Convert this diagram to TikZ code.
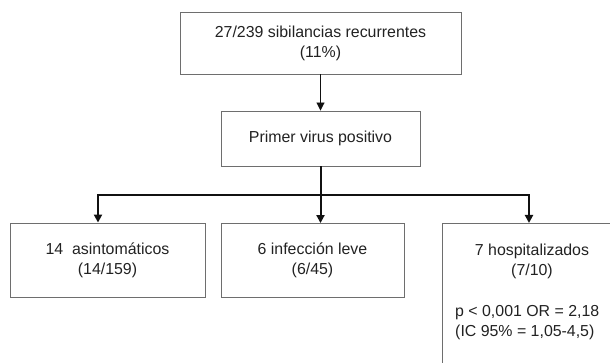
\documentclass[tikz,border=0pt]{standalone}
\usepackage{fontspec}
\setmainfont{Liberation Sans}
\usetikzlibrary{arrows.meta}
\definecolor{boxgray}{HTML}{6E6E6E}
\definecolor{txt}{HTML}{222222}
\definecolor{linek}{HTML}{111111}
\begin{document}
\begin{tikzpicture}[x=1pt,y=-1pt,
  box/.style={draw=boxgray, line width=0.9pt, align=center, text=txt, inner sep=0pt,
              font=\fontsize{15.9}{20}\selectfont},
  label/.style={text=txt, inner sep=0pt, font=\fontsize{15.9}{20}\selectfont},
  thinarrow/.style={draw=linek, line width=0.9pt, -{Triangle[width=8pt,length=8pt]}},
  busarrow/.style={draw=linek, line width=2pt, -{Triangle[width=8pt,length=8pt]}}]
\useasboundingbox (0,0) rectangle (610,363);
\clip (0,0) rectangle (610,363);
% boxes
\node[box, minimum width=281pt, minimum height=62pt] (top) at (320.5,43)
  {27/239 sibilancias recurrentes\\(11\%)};
\node[box, minimum width=199pt, minimum height=55pt] (mid) at (320.5,138.5)
  {Primer virus positivo};
\node[box, minimum width=195pt, minimum height=74pt] (b1) at (107.5,260)
  {14~\ asintomáticos\\(14/159)};
\node[box, minimum width=183pt, minimum height=74pt] (b2) at (312.5,260.5)
  {6 infección leve\\(6/45)};
\node[box, minimum width=180pt, minimum height=170pt, anchor=north west] (b3) at (442,223) {};
\node[label, align=center] (b3t) at (532,261) {7 hospitalizados\\(7/10)};
\node[label, align=left, anchor=west] (b3s) at (455,323)
  {p < 0,001 OR = 2,18\\(IC 95\% = 1,05-4,5)};
% connector coordinates
\coordinate (busc) at (320.5,195);
\coordinate (busl) at (98,195);
\coordinate (busr) at (529,195);
% connectors
\draw[thinarrow] (top.south) -- (mid.north);
\draw[busarrow] (mid.south) -- (busc) -| (b1.north -| busl);
\draw[busarrow] (busc) -| (b3.north -| busr);
\draw[busarrow] (busc) -- (b2.north -| busc);
\end{tikzpicture}
\end{document}
